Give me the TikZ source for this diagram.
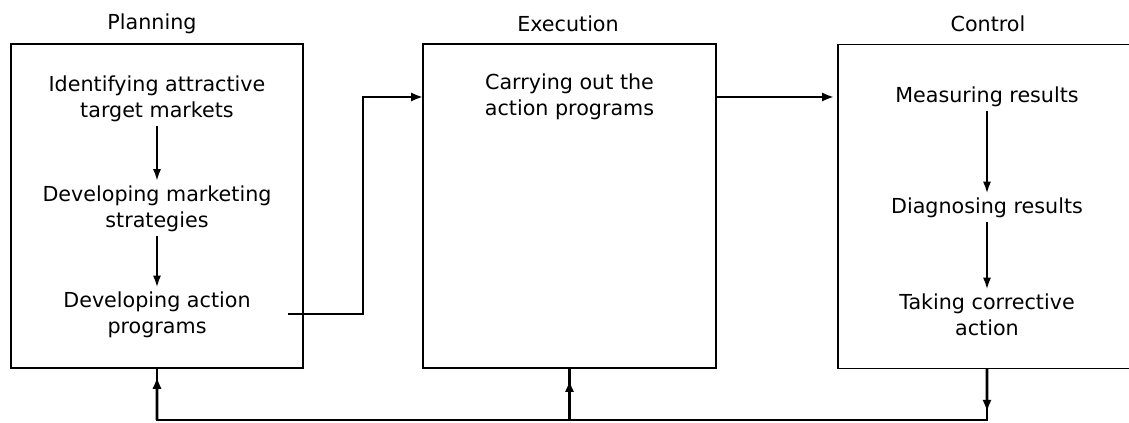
\documentclass[tikz,border=0pt]{standalone}
\usepackage{fontspec}
\setmainfont{DejaVu Sans}
\usetikzlibrary{arrows.meta,calc}
\begin{document}
\begin{tikzpicture}[x=0.75pt,y=-0.75pt,
  txt/.style={font=\fontsize{15.5}{19.5}\selectfont, align=center, inner sep=3pt},
  ttl/.style={font=\fontsize{15.5}{19.5}\selectfont, inner sep=0pt},
  box/.style={draw, line width=1.2pt, inner sep=0pt, outer sep=0pt, minimum height=243pt},
  conn/.style={line width=2.2pt, line join=miter},
  flow/.style={line width=1.7pt, -{Latex[length=9pt,width=6pt]}},
  tipa/.style={line width=2.2pt, -{Latex[length=9pt,width=7pt]}}]
\useasboundingbox (0,0) rectangle (1129,423);
\clip (0,0) rectangle (1129,423);
% boxes
\node[box, minimum width=219pt] (plan) at (157,206) {};
\node[box, minimum width=219.75pt] (exec) at (569.5,206) {};
\node[box, minimum width=223.5pt] (ctrl) at (987,206.5) {};
% titles
\node[ttl] (tplan) at (152,24) {Planning};
\node[ttl] (texec) at (568,24) {Execution};
\node[ttl] (tctrl) at (988,24) {Control};
% planning texts
\node[txt] (p1) at (157,98.5) {Identifying attractive\\target markets};
\node[txt] (p2) at (157,208.5) {Developing marketing\\strategies};
\node[txt] (p3) at (157,315) {Developing action\\programs};
% execution text
\node[txt] (e1) at (569.5,97) {Carrying out the\\action programs};
% control texts
\node[txt] (c1) at (987,97) {Measuring results};
\node[txt] (c2) at (987,208) {Diagnosing results};
\node[txt] (c3) at (987,315) {Taking corrective\\action};
% inner arrows
\draw[flow] (p1) -- (p2);
\draw[flow] (p2) -- (p3);
\draw[flow] (c1) -- (c2);
\draw[flow] (c2) -- (c3);
% main flow
\coordinate (pout) at (288,314);
\draw[conn, -{Latex[length=9pt,width=7pt]}] (pout) -- ++(75,0) |- (exec.west |- e1);
\draw[conn, -{Latex[length=9pt,width=7pt]}, shorten >=3pt] (exec.east |- e1) -- (ctrl.west |- c1);
% feedback loop
\coordinate (bot) at (0,420);
\coordinate (cb) at (ctrl.south |- bot);
\coordinate (pb) at (plan.south |- bot);
\coordinate (eb) at (exec.south |- bot);
\draw[conn] (ctrl.south) -- (cb) -- (pb) -- (plan.south);
\draw[conn] (eb) -- (exec.south);
\draw[tipa] (ctrl.south) -- ($(ctrl.south)!0.84!(cb)$);
\draw[tipa] (pb) -- ($(pb)!0.83!(plan.south)$);
\draw[tipa] (eb) -- ($(eb)!0.77!(exec.south)$);
\end{tikzpicture}
\end{document}
